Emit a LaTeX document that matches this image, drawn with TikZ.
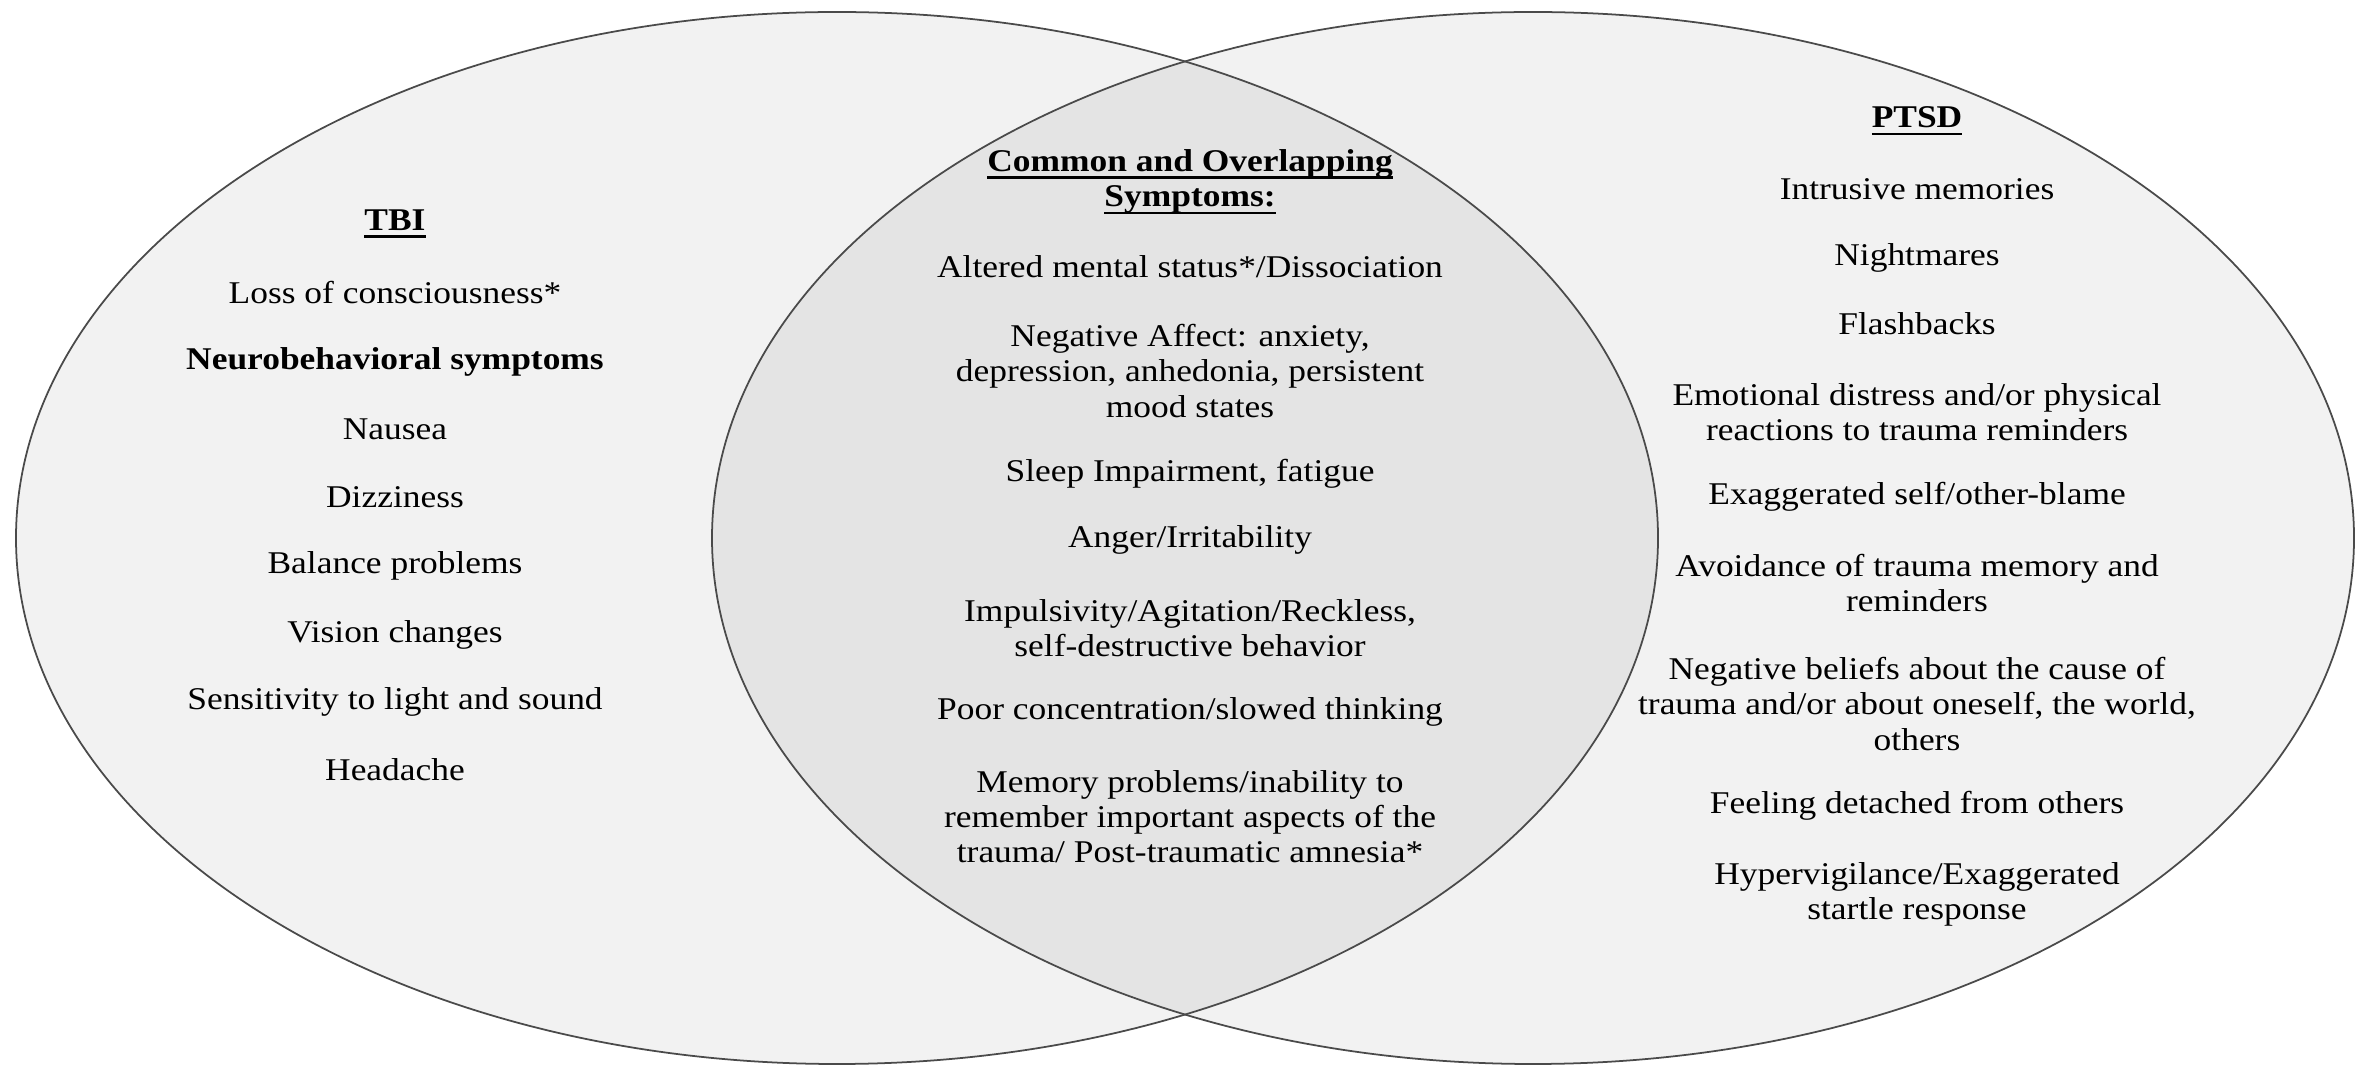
\documentclass[tikz,border=0pt]{standalone}
\usepackage{fontspec}
\setmainfont{Liberation Serif}[FakeStretch=1.12]
\definecolor{outer}{HTML}{F2F2F2}
\definecolor{inner}{HTML}{E4E4E4}
\definecolor{rim}{HTML}{4A4A4A}
\newcommand{\headline}[1]{\setbox0\hbox{#1}\rlap{\rule[-2.2pt]{\wd0}{0.8pt}}\box0}

\begin{document}
\begin{tikzpicture}[sym/.style={align=center, inner sep=0pt, font=\fontsize{9}{10}\selectfont},
	head/.style={sym, font=\fontsize{9}{10}\selectfont\bfseries}]
			\useasboundingbox (0,0) rectangle (23.59,10.68);
			\fill[outer] (8.37,5.30) ellipse (8.21 and 5.26);
			\fill[outer] (15.33,5.30) ellipse (8.21 and 5.26);
			\begin{scope}
				\clip (8.37,5.30) ellipse (8.21 and 5.26);
				\fill[inner] (15.33,5.30) ellipse (8.21 and 5.26);
			\end{scope}
			\draw[rim, line width=.5pt] (8.37,5.30) ellipse (8.21 and 5.26);
			\draw[rim, line width=.5pt] (15.33,5.30) ellipse (8.21 and 5.26);

			\node[head] (tbi) at (3.95,8.44) {\headline{TBI}};
			\node[sym] (loss) at (3.95,7.75) {Loss of consciousness*};
			\node[head] (neuro) at (3.95,7.06) {Neurobehavioral symptoms};
			\node[sym] (nausea) at (3.95,6.39) {Nausea};
			\node[sym] (dizzy) at (3.95,5.71) {Dizziness};
			\node[sym] (balance) at (3.95,5.02) {Balance problems};
			\node[sym] (vision) at (3.95,4.33) {Vision changes};
			\node[sym] (light) at (3.95,3.66) {Sensitivity to light and sound};
			\node[sym] (headache) at (3.95,2.98) {Headache};

			\node[head] (common) at (11.90,8.86) {\headline{Common and Overlapping}\\ \headline{Symptoms:}};
			\node[sym] (altered) at (11.90,8.01) {Altered mental status*/Dissociation};
			\node[sym] (affect) at (11.90,6.97) {Negative Affect: anxiety,\\ depression, anhedonia, persistent\\ mood states};
			\node[sym] (sleep) at (11.90,5.94) {Sleep Impairment, fatigue};
			\node[sym] (anger) at (11.90,5.28) {Anger/Irritability};
			\node[sym] (impulse) at (11.90,4.40) {Impulsivity/Agitation/Reckless,\\ self-destructive behavior};
			\node[sym] (focus) at (11.90,3.56) {Poor concentration/slowed thinking};
			\node[sym] (memory) at (11.90,2.51) {Memory problems/inability to\\ remember important aspects of the\\ trauma/ Post-traumatic amnesia*};

			\node[head] (ptsd) at (19.17,9.47) {\headline{PTSD}};
			\node[sym] (intrusive) at (19.17,8.79) {Intrusive memories};
			\node[sym] (nightmare) at (19.17,8.10) {Nightmares};
			\node[sym] (flash) at (19.17,7.44) {Flashbacks};
			\node[sym] (distress) at (19.17,6.56) {Emotional distress and/or physical\\ reactions to trauma reminders};
			\node[sym] (blame) at (19.17,5.71) {Exaggerated self/other-blame};
			\node[sym] (avoid) at (19.17,4.85) {Avoidance of trauma memory and\\ reminders};
			\node[sym] (beliefs) at (19.17,3.64) {Negative beliefs about the cause of\\ trauma and/or about oneself, the world,\\ others};
			\node[sym] (detached) at (19.17,2.62) {Feeling detached from others};
			\node[sym] (startle) at (19.17,1.74) {Hypervigilance/Exaggerated\\ startle response};
		\end{tikzpicture}
\end{document}
